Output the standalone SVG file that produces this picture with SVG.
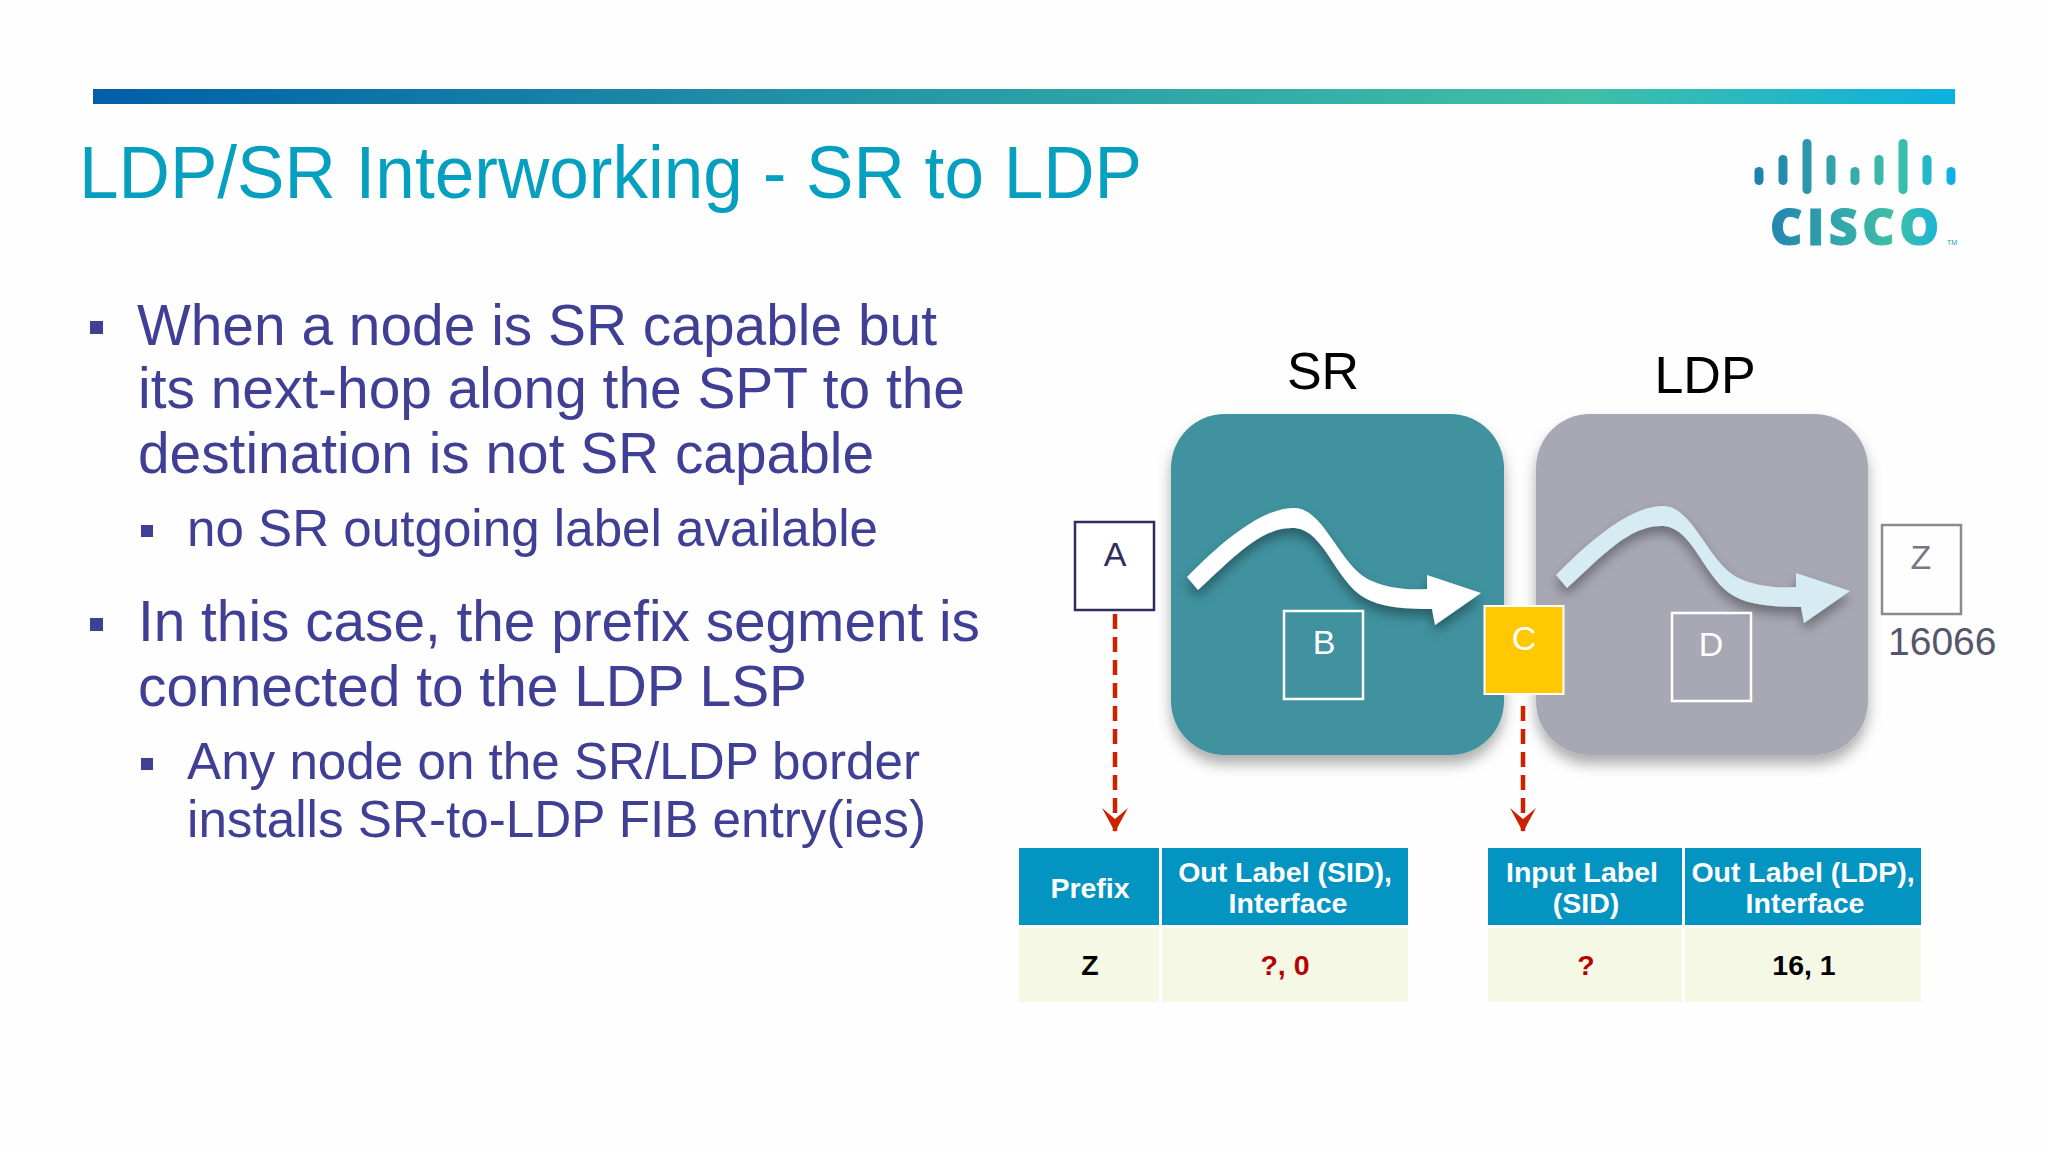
<svg xmlns="http://www.w3.org/2000/svg" xmlns:xlink="http://www.w3.org/1999/xlink" width="2048" height="1152" viewBox="0 0 2048 1152">
<style>
text{font-family:"Liberation Sans",Arial,sans-serif}
.h{font-size:74px;fill:#059fc0}
.b1{font-size:58px;fill:#3e3f95}
.b2{font-size:52px;fill:#3e3f95}
.bul{fill:#3e3f95}
.th{font-size:28.500px;font-weight:bold;fill:#fff;text-anchor:middle}
.td{font-size:28.500px;font-weight:bold;fill:#000;text-anchor:middle}
.q{fill:#b80000}
.hd{fill:#0494c2}
.bd{fill:#f5f8e5}
.lab{font-size:34px;text-anchor:middle}
.big{font-size:52px;fill:#000;text-anchor:middle}
.n{fill:none;stroke-width:2.500}
.dash{stroke:#cc2200;stroke-width:4.500;stroke-dasharray:15 8;fill:none}
.bar{fill:url(#lg)}
</style>
<defs>
<linearGradient id="top" x1="0" x2="1" y1="0" y2="0"><stop offset="0" stop-color="#005fa8"/><stop offset=".35" stop-color="#1f8ea6"/><stop offset=".8" stop-color="#40bfa6"/><stop offset="1" stop-color="#0cb0df"/></linearGradient>
<linearGradient id="lg" gradientUnits="userSpaceOnUse" x1="1755" x2="1955" y1="0" y2="0"><stop offset="0" stop-color="#1f7fb0"/><stop offset=".7" stop-color="#3fbfa6"/><stop offset="1" stop-color="#0cb0e8"/></linearGradient>
<filter id="sh" x="-10%" y="-10%" width="120%" height="125%"><feDropShadow dx="0" dy="9" stdDeviation="7" flood-color="#000" flood-opacity=".32"/></filter>
<filter id="ash" x="-15%" y="-20%" width="130%" height="150%"><feDropShadow dx="0" dy="7" stdDeviation="6" flood-color="#000" flood-opacity=".36"/></filter>
<path id="flow" d="M1187 577C1212 552 1258 507 1295 508C1325 509 1340 568 1372 581C1390 589 1410 590 1427 589L1427 575L1481 593L1435 625L1432 609C1405 609 1380 607 1365 598C1335 581 1325 531 1295 528C1262 526 1235 556 1198 590Z"/>
<marker id="head" markerUnits="userSpaceOnUse" markerWidth="26" markerHeight="28" refX="24" refY="14" orient="auto" viewBox="0 0 26 28"><path d="M1 1L12 14L1 27L25 14Z" fill="#cc2200"/></marker>
</defs>
<rect width="2048" height="1152" fill="#fefefe"/>
<rect id="topbar" x="93" y="89" width="1862" height="15" fill="url(#top)"/>
<text id="title" class="h" x="79" y="198" textLength="1063" lengthAdjust="spacingAndGlyphs">LDP/SR Interworking - SR to LDP</text>
<g id="logo">
<rect class="bar" x="1754.500" y="167" width="9" height="18" rx="4.500"/>
<rect class="bar" x="1778.500" y="155" width="9" height="30" rx="4.500"/>
<rect class="bar" x="1802.500" y="139" width="9" height="55" rx="4.500"/>
<rect class="bar" x="1826.500" y="155" width="9" height="30" rx="4.500"/>
<rect class="bar" x="1850.500" y="167" width="9" height="18" rx="4.500"/>
<rect class="bar" x="1874.500" y="155" width="9" height="30" rx="4.500"/>
<rect class="bar" x="1898.500" y="139" width="9" height="55" rx="4.500"/>
<rect class="bar" x="1922.500" y="155" width="9" height="30" rx="4.500"/>
<rect class="bar" x="1946.500" y="167" width="9" height="18" rx="4.500"/>
<text x="1770" y="245" font-size="50" font-weight="900" fill="url(#lg)" stroke="url(#lg)" stroke-width="1" textLength="169" lengthAdjust="spacing" style="font-family:'Open Sans','Liberation Sans',sans-serif">CISCO</text>
<text x="1947" y="245" font-size="7" fill="#1f9fb8">TM</text>
</g>
<g id="bullets">
<rect class="bul" x="90" y="321" width="13" height="13"/>
<text class="b1" x="137" y="345" textLength="800" lengthAdjust="spacingAndGlyphs">When a node is SR capable but</text>
<text class="b1" x="138" y="408" textLength="827" lengthAdjust="spacingAndGlyphs">its next-hop along the SPT to the</text>
<text class="b1" x="138" y="473" textLength="736" lengthAdjust="spacingAndGlyphs">destination is not SR capable</text>
<rect class="bul" x="141" y="525" width="12" height="12"/>
<text class="b2" x="187" y="546" textLength="691" lengthAdjust="spacingAndGlyphs">no SR outgoing label available</text>
<rect class="bul" x="90" y="618" width="13" height="13"/>
<text class="b1" x="138" y="641" textLength="842" lengthAdjust="spacingAndGlyphs">In this case, the prefix segment is</text>
<text class="b1" x="138" y="706" textLength="669" lengthAdjust="spacingAndGlyphs">connected to the LDP LSP</text>
<rect class="bul" x="141" y="758" width="12" height="12"/>
<text class="b2" x="187" y="779" textLength="733" lengthAdjust="spacingAndGlyphs">Any node on the SR/LDP border</text>
<text class="b2" x="187" y="837" textLength="739" lengthAdjust="spacingAndGlyphs">installs SR-to-LDP FIB entry(ies)</text>
</g>
<g id="domain-sr">
<rect x="1171" y="414" width="333" height="341" rx="54" fill="#40929f" filter="url(#sh)"/>
<text class="big" x="1323" y="389">SR</text>
<use xlink:href="#flow" href="#flow" fill="#fff" filter="url(#ash)"/>
</g>
<g id="domain-ldp">
<rect x="1536" y="414" width="332" height="341" rx="54" fill="#a8a8b5" filter="url(#sh)"/>
<text class="big" x="1705" y="393">LDP</text>
<use xlink:href="#flow" href="#flow" transform="translate(369,-2)" fill="#d6ebf2" filter="url(#ash)"/>
</g>
<g id="node-a"><rect class="n" x="1075" y="522" width="79" height="88" stroke="#2d2d5e" style="fill:#fff"/><text class="lab" x="1115" y="566" fill="#2d2d5e">A</text></g>
<g id="node-b"><rect class="n" x="1284" y="611" width="79" height="88" stroke="#fff"/><text class="lab" x="1324" y="654" fill="#fff">B</text></g>
<g id="node-c"><rect x="1484.500" y="606" width="79" height="88" fill="#ffc800" stroke="#fff" stroke-width="2"/><text class="lab" x="1524" y="650" fill="#fff">C</text></g>
<g id="node-d"><rect class="n" x="1672" y="613" width="79" height="88" stroke="#fff"/><text class="lab" x="1711" y="656" fill="#fff">D</text></g>
<g id="node-z"><rect class="n" x="1882" y="525" width="79" height="89" stroke="#8a8a8f"/><text class="lab" x="1921" y="569" fill="#77777f">Z</text><text x="1888" y="655" font-size="39" fill="#55566b">16066</text></g>
<g id="connectors">
<line class="dash" x1="1115" y1="614" x2="1115" y2="831" marker-end="url(#head)"/>
<line class="dash" x1="1523" y1="706" x2="1523" y2="831" marker-end="url(#head)"/>
</g>
<g id="table-1">
<rect class="hd" x="1019" y="848" width="140" height="77"/><rect class="hd" x="1162" y="848" width="246" height="77"/>
<rect class="bd" x="1019" y="928" width="140" height="74"/><rect class="bd" x="1162" y="928" width="246" height="74"/>
<text class="th" x="1090" y="898">Prefix</text>
<text class="th" x="1285" y="882">Out Label (SID),</text><text class="th" x="1288" y="913">Interface</text>
<text class="td" x="1090" y="975">Z</text><text class="td q" x="1285" y="975">?, 0</text>
</g>
<g id="table-2">
<rect class="hd" x="1488" y="848" width="194" height="77"/><rect class="hd" x="1685" y="848" width="236" height="77"/>
<rect class="bd" x="1488" y="928" width="194" height="74"/><rect class="bd" x="1685" y="928" width="236" height="74"/>
<text class="th" x="1582" y="882">Input Label</text><text class="th" x="1586" y="913">(SID)</text>
<text class="th" x="1803" y="882">Out Label (LDP),</text><text class="th" x="1805" y="913">Interface</text>
<text class="td q" x="1586" y="975">?</text><text class="td" x="1804" y="975">16, 1</text>
</g>
</svg>
